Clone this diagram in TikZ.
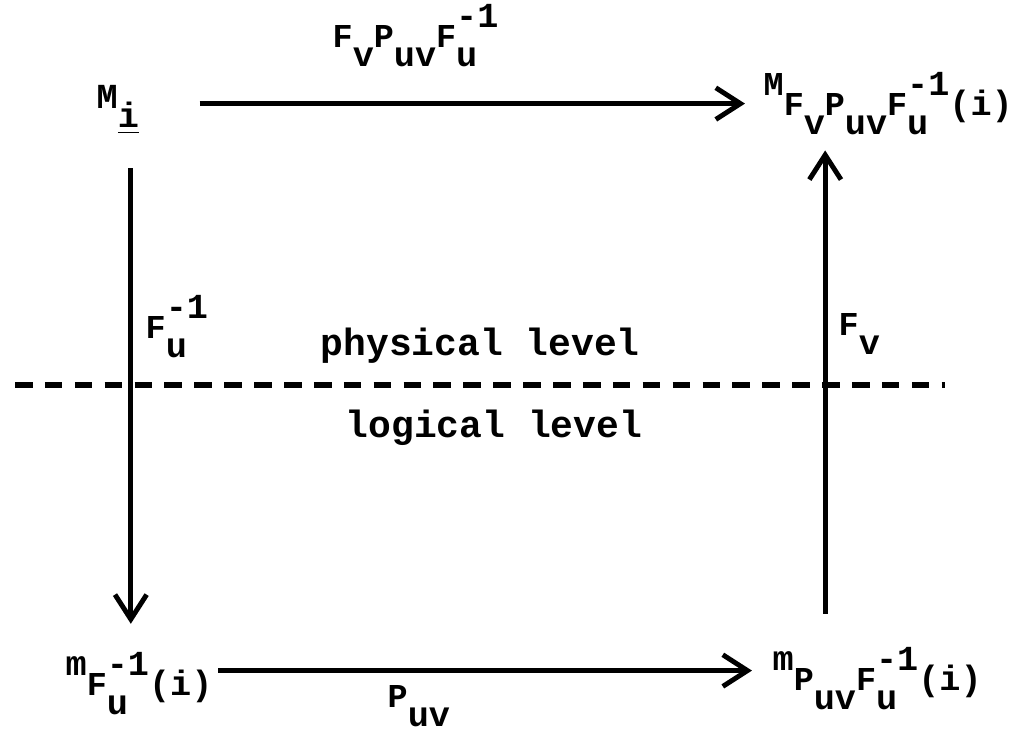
\documentclass[tikz,border=0pt]{standalone}
\usepackage{fontspec}
\setmainfont{Liberation Mono}
\usetikzlibrary{arrows.meta}
% typewriter look: small capitals, half-line shifts
\newcommand{\cp}[1]{{\fontsize{9.5}{9.5}\selectfont #1}}
\newcommand{\tlo}[1]{\raisebox{-5.5pt}{#1}}
\newcommand{\thi}[1]{\raisebox{5.5pt}{#1}}
\newcommand{\finv}{\cp{F}\rlap{\tlo{u}}\thi{-1}}
\tikzset{
  obj/.style       ={inner sep=0pt, anchor=base west,
                     font=\fontsize{10}{12}\selectfont\bfseries},
  lbl/.style       ={inner sep=0pt, anchor=base west,
                     font=\fontsize{10}{12}\selectfont\bfseries},
  lvl/.style       ={inner sep=0pt, anchor=base west,
                     font=\fontsize{10.8}{13}\selectfont\bfseries},
  flow/.style      ={-{Straight Barb[length=7pt,width=9pt]}, line width=1.4pt},
  levelline/.style ={line width=1.7pt, dash pattern=on 5pt off 3.5pt},
}

\begin{document}
\begin{tikzpicture}[x=0.01cm, y=-0.01cm]
  \useasboundingbox (0,0) rectangle (1024,733);

  % objects
  \node[obj] (mi)  at (96,108)  {M\tlo{\underline{i}}};
  \node[obj] (mtr) at (763,115) {\thi{\cp{M}}\cp{F}\tlo{v}\cp{P}\tlo{uv}\finv(i)};
  \node[obj] (mbl) at (65,695)  {\thi{m}\finv(i)};
  \node[obj] (mbr) at (772,690) {\thi{m}\cp{P}\tlo{uv}\finv(i)};

  % arrow labels
  \node[lbl] (ltop)   at (332,47)  {\cp{F}\tlo{v}\cp{P}\tlo{uv}\finv};
  \node[lbl] (lleft)  at (145,338) {\finv};
  \node[lbl] (lright) at (838,335) {\cp{F}\tlo{v}};
  \node[lbl] (lbot)   at (387,707) {\cp{P}\tlo{uv}};

  % levels
  \node[lvl] (phys) at (320,355) {physical level};
  \node[lvl] (logi) at (345,437) {logical level};
  \coordinate (dashl) at (15,385);
  \coordinate (dashr) at (945,385);
  \draw[levelline] (dashl) -- (dashr);

  % arrows
  \draw[flow, shorten <=0.60cm, shorten >=0.18cm]
    ([yshift=0.06cm]mi.east) -- ([yshift=0.06cm]mi.east -| mtr.west);
  \draw[flow, shorten <=0.33cm, shorten >=0.28cm]
    ([xshift=0.13cm]mi.south) -- ([xshift=0.13cm]mi.south |- mbl.north);
  \draw[flow, shorten <=0.33cm, shorten >=0.15cm]
    ([xshift=-0.63cm]mtr.south |- mbr.north) -- ([xshift=-0.63cm]mtr.south);
  \draw[flow, shorten <=0.05cm, shorten >=0.20cm]
    ([yshift=0.13cm]mbl.east) -- ([yshift=0.13cm]mbl.east -| mbr.west);
\end{tikzpicture}
\end{document}
